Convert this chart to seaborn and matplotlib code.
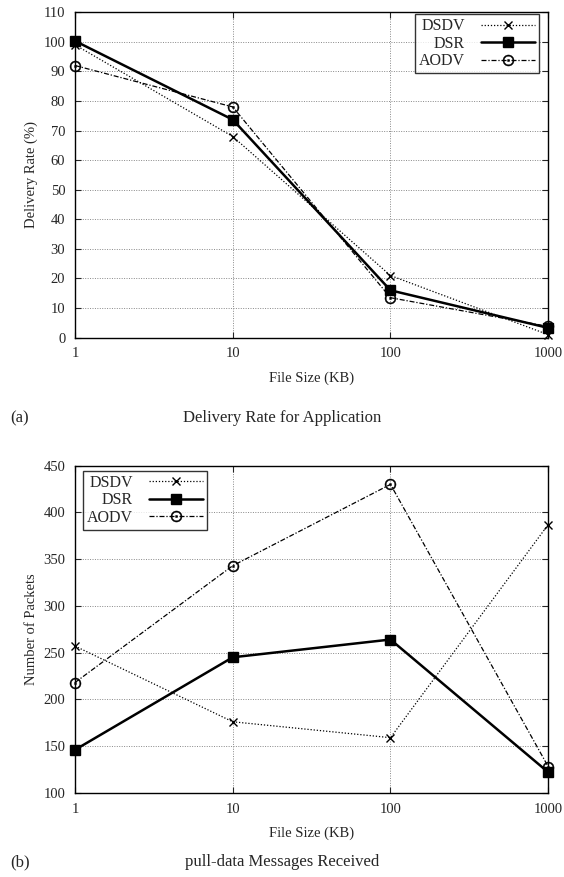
import numpy as np
import pandas as pd
import matplotlib
matplotlib.use("Agg")
import matplotlib.pyplot as plt
import seaborn as sns

# data
file_size = [1, 10, 100, 1000]
protocols = ["DSDV", "DSR", "AODV"]

rate_dsdv = [99.0, 68.0, 21.0, 1.0]
rate_dsr = [100.3, 73.7, 16.0, 3.3]
rate_aodv = [92.0, 78.0, 13.5, 3.8]

pkts_dsdv = [257, 176, 159, 387]
pkts_dsr = [146, 245, 264, 122]
pkts_aodv = [218, 343, 430, 128]

sns.set_style("ticks")
plt.rcParams["font.family"] = ["Liberation Serif", "DejaVu Serif"]
plt.rcParams["mathtext.fontset"] = "dejavusans"

styles = {
    "DSDV": dict(linestyle=(0, (1, 1.5)), linewidth=0.9, marker="x", markersize=6,
                 mec="black", mfc="black", mew=1.0),
    "DSR": dict(linestyle="-", linewidth=1.8, marker="s", markersize=7,
                mec="black", mfc="black", mew=1.0),
    "AODV": dict(linestyle=(0, (4, 1.5, 1, 1.5)), linewidth=0.9, marker=r"$\odot$",
                 markersize=8, mec="black", mfc="black", mew=0.3),
}


def draw(ax, values, ylim, yticks, ylabel, leg_loc, leg_anchor):
    for name, vals in zip(protocols, values):
        df = pd.DataFrame({"size": file_size, "val": vals})
        sns.lineplot(data=df, x="size", y="val", ax=ax, color="black", label=name,
                     clip_on=False, zorder=3, **styles[name])
    ax.set_xscale("log")
    ax.set_xlim(1, 1000)
    ax.set_xticks(file_size)
    ax.set_xticklabels([str(v) for v in file_size])
    ax.minorticks_off()
    ax.set_ylim(*ylim)
    ax.set_yticks(yticks)
    ax.grid(True, color="#888888", linestyle=(0, (1, 1.5)), linewidth=0.7)
    ax.tick_params(direction="in", top=True, right=True, labelsize=10.5, length=4, pad=7)
    for s in ax.spines.values():
        s.set_linewidth(1.0)
        s.set_color("black")
    ax.set_xlabel("File Size (KB)", fontsize=10.5, labelpad=8)
    ax.set_ylabel(ylabel, fontsize=10.5)
    leg = ax.legend(loc=leg_loc, bbox_to_anchor=leg_anchor, markerfirst=False,
                    fontsize=11.5, frameon=True, fancybox=False, handlelength=3.4,
                    handletextpad=1.0, labelspacing=0.1, borderpad=0.25,
                    borderaxespad=0.0)
    leg.get_frame().set_edgecolor("black")
    leg.get_frame().set_linewidth(1.0)
    leg.set_zorder(5)


fig = plt.figure(figsize=(5.64, 8.77), dpi=100)
ax1 = fig.add_axes([0.133, 0.615, 0.839, 0.371])
ax2 = fig.add_axes([0.133, 0.096, 0.839, 0.373])

draw(ax1, [rate_dsdv, rate_dsr, rate_aodv], (0, 110), range(0, 111, 10),
     "Delivery Rate (%)", "upper right", (0.981, 0.994))
draw(ax2, [pkts_dsdv, pkts_dsr, pkts_aodv], (100, 450), range(100, 451, 50),
     "Number of Packets", "upper left", (0.017, 0.985))

fig.text(0.018, 1 - 418 / 877, "(a)", fontsize=12, va="center")
fig.text(0.5, 1 - 418 / 877, "Delivery Rate for Application", fontsize=12,
         ha="center", va="center")
fig.text(0.018, 1 - 862 / 877, "(b)", fontsize=12, va="center")
fig.text(0.5, 1 - 862 / 877, "pull-data Messages Received", fontsize=12,
         ha="center", va="center")

fig.savefig("out.png", dpi=100, facecolor="white")
